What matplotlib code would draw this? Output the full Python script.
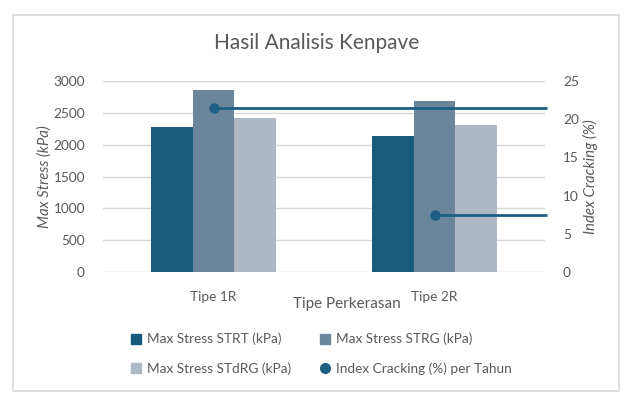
import matplotlib
matplotlib.use("Agg")
import matplotlib.pyplot as plt
from matplotlib.lines import Line2D
from matplotlib.patches import Rectangle
import numpy as np

plt.rcParams['font.family'] = ['Lato', 'DejaVu Sans']

categories = ["Tipe 1R", "Tipe 2R"]
stress_strt = [2270, 2130]
stress_strg = [2860, 2690]
stress_stdrg = [2420, 2310]
index_cracking = [21.5, 7.4]
left_ticks = [0, 500, 1000, 1500, 2000, 2500, 3000]
right_ticks = [0, 5, 10, 15, 20, 25]

c_strt = "#175b7d"
c_strg = "#6b869a"
c_stdrg = "#adb8c4"
c_line = "#1d5f82"
txt = "#595959"
grid = "#d9d9d9"

fig = plt.figure(figsize=(6.34, 4.08), dpi=100)
fig.patches.append(Rectangle((12.5/634, 1-390.5/408), (619-12.5)/634, (390.5-15)/408,
                             transform=fig.transFigure, fill=False, edgecolor=grid, lw=1.2))

ax = fig.add_axes([103/634, 1-272/408, 442/634, 191/408])
x = np.arange(len(categories))
w = 0.19
ax.bar(x - w, stress_strt, w, color=c_strt, label="Max Stress STRT (kPa)", zorder=3)
ax.bar(x, stress_strg, w, color=c_strg, label="Max Stress STRG (kPa)", zorder=3)
ax.bar(x + w, stress_stdrg, w, color=c_stdrg, label="Max Stress STdRG (kPa)", zorder=3)
ax.set_xlim(-0.5, 1.5)
ax.set_ylim(0, 3000)
ax.set_yticks(left_ticks)
ax.yaxis.grid(True, color=grid, lw=1, zorder=0)
ax.set_axisbelow(True)
for s in ax.spines.values():
    s.set_visible(False)
ax.set_xticks(x)
ax.set_xticklabels(categories)
ax.tick_params(axis='both', length=0, colors=txt, labelsize=9.8)
ax.tick_params(axis='y', pad=13)
ax.tick_params(axis='x', pad=14)
ax.set_ylabel("Max Stress (kPa)", fontsize=10.8, color=txt, style='italic', labelpad=1)

ax2 = ax.twinx()
ax2.set_ylim(0, 25)
ax2.set_yticks(right_ticks)
for s in ax2.spines.values():
    s.set_visible(False)
ax2.tick_params(axis='y', length=0, colors=txt, labelsize=9.8, pad=13)
ax2.set_ylabel("Index Cracking (%)", fontsize=10.8, color=txt, style='italic', labelpad=3)
xr = ax.get_xlim()[1]
ax2.hlines(index_cracking, x, xr + 0.01, color=c_line, lw=2, zorder=4, clip_on=False)
ax2.plot(x, index_cracking, 'o', color=c_line, ms=6.5, zorder=5)

fig.text(347/634, 1-304/408, "Tipe Perkerasan", ha='center', va='center', fontsize=11, color=txt)
fig.text(317/634, 1-43/408, "Hasil Analisis Kenpave", ha='center', va='center', fontsize=15, color=txt)

handles = [
    Line2D([], [], marker='s', ls='', color=c_strt, ms=7),
    Line2D([], [], marker='s', ls='', color=c_stdrg, ms=7),
    Line2D([], [], marker='s', ls='', color=c_strg, ms=7),
    Line2D([], [], marker='o', ls='', color=c_line, ms=7),
]
labels = ["Max Stress STRT (kPa)", "Max Stress STdRG (kPa)",
          "Max Stress STRG (kPa)", "Index Cracking (%) per Tahun"]
leg = fig.legend(handles, labels, ncol=2, loc='upper left',
                 bbox_to_anchor=(124/634, 1-326/408), frameon=False,
                 fontsize=9.8, handlelength=0.8, handletextpad=0.4,
                 columnspacing=2.1, labelspacing=1.25, labelcolor=txt, borderpad=0)

fig.savefig("out.png", dpi=100)
